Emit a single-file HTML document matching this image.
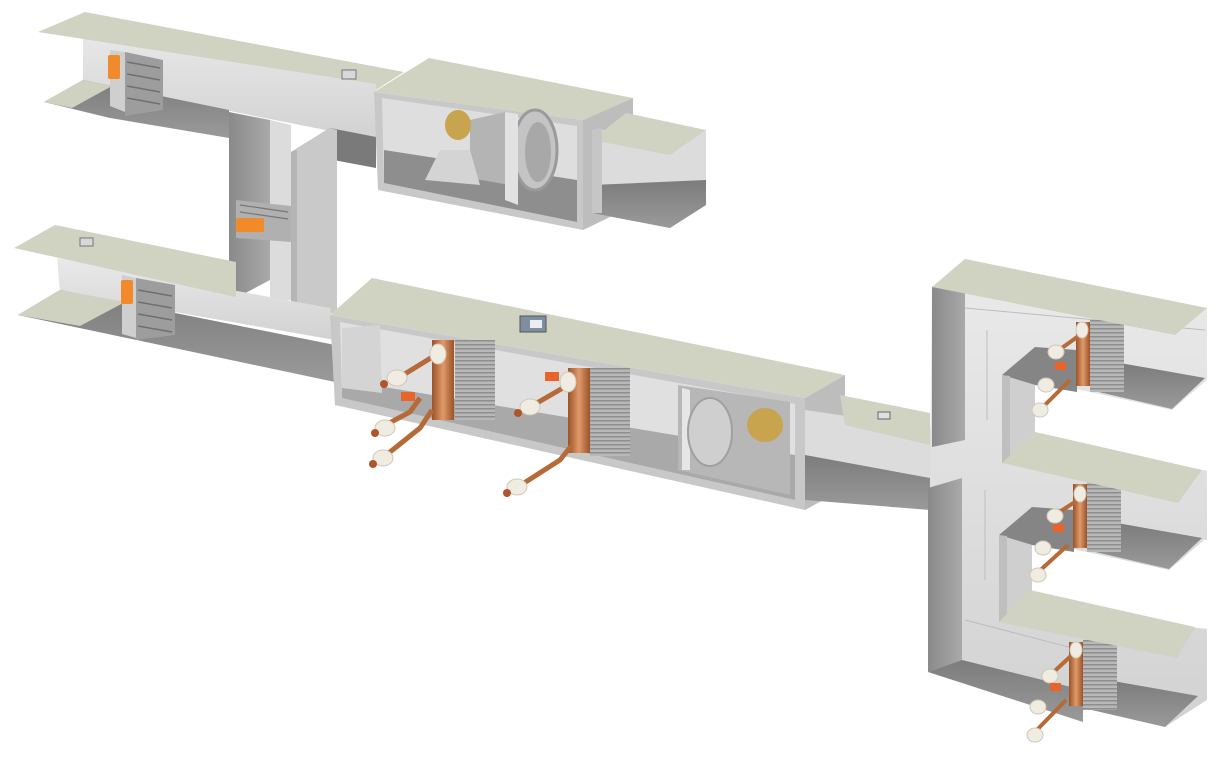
<!DOCTYPE html>
<html><head><meta charset="utf-8"><style>
html,body{margin:0;padding:0;background:#fff;}
svg{display:block;}
</style></head><body>
<svg width="1221" height="757" viewBox="0 0 1221 757" xmlns="http://www.w3.org/2000/svg">
<defs>
<linearGradient id="floor" x1="0" y1="0" x2="0" y2="1"><stop offset="0" stop-color="#7c7c7c"/><stop offset="1" stop-color="#9a9a9a"/></linearGradient>
<linearGradient id="side" x1="0" y1="0" x2="1" y2="0"><stop offset="0" stop-color="#8a8a8a"/><stop offset="1" stop-color="#a9a9a9"/></linearGradient>
<linearGradient id="wall" x1="0" y1="0" x2="0" y2="1"><stop offset="0" stop-color="#e9e9e9"/><stop offset="1" stop-color="#d2d2d2"/></linearGradient>
<linearGradient id="cu" x1="0" y1="0" x2="1" y2="0"><stop offset="0" stop-color="#9a5228"/><stop offset="0.5" stop-color="#e09a6a"/><stop offset="1" stop-color="#9a5228"/></linearGradient>
<pattern id="fins" width="4" height="4" patternUnits="userSpaceOnUse"><rect width="4" height="4" fill="#b8b8b8"/><rect width="4" height="1.5" fill="#8e8e8e"/></pattern>
</defs>

<!-- ===== Upper-left duct ===== -->
<polygon points="83,28 376,80 376,140 83,82" fill="url(#wall)"/>
<polygon points="44,102 83,80 229,110 229,138 110,118" fill="url(#floor)"/>
<polygon points="44,102 83,80 112,86 72,108" fill="#cfd1c1"/>
<polygon points="38,32 85,12 404,72 376,90 376,84" fill="#d0d2c2"/>
<rect x="342" y="70" width="14" height="9" fill="#d8d8d8" stroke="#777" stroke-width="1"/>
<polygon points="110,50 125,52 125,112 110,106" fill="#cfcfcf"/>
<polygon points="125,52 163,60 163,110 125,116" fill="#9d9d9d"/>
<g stroke="#6f6f6f" stroke-width="1.5"><line x1="127" y1="62" x2="160" y2="68"/><line x1="127" y1="74" x2="160" y2="80"/><line x1="127" y1="86" x2="160" y2="92"/><line x1="127" y1="98" x2="160" y2="104"/></g>
<rect x="108" y="55" width="12" height="24" rx="2" fill="#f08a2a"/>

<!-- riser -->
<polygon points="229,112 270,120 270,280 236,298 229,295" fill="url(#side)"/>
<polygon points="270,120 291,125 291,300 270,300" fill="#dcdcdc"/>
<polygon points="330,128 376,137 376,168 291,152" fill="#7a7a7a"/>
<polygon points="291,152 330,128 337,130 337,313 297,313" fill="#c9c9c9"/>
<polygon points="291,152 297,150 297,313 291,310" fill="#b5b5b5"/>
<polygon points="236,200 291,206 291,242 236,238" fill="#b0b0b0"/>
<g stroke="#777" stroke-width="1.2"><line x1="240" y1="205" x2="288" y2="212"/><line x1="240" y1="212" x2="288" y2="219"/></g>
<rect x="236" y="218" width="28" height="14" rx="2" fill="#f08a2a"/>

<!-- ===== Lower-left duct ===== -->
<polygon points="57,258 330,308 335,340 60,292" fill="url(#wall)"/>
<polygon points="18,315 60,290 335,345 335,382" fill="url(#floor)"/>
<polygon points="18,315 60,290 125,302 80,326" fill="#cfd1c1"/>
<polygon points="14,248 55,225 236,262 236,297" fill="#d0d2c2"/>
<rect x="80" y="238" width="13" height="8" fill="#d8d8d8" stroke="#777"/>
<polygon points="122,275 136,278 136,338 122,334" fill="#cfcfcf"/>
<polygon points="136,278 175,285 175,335 136,340" fill="#9d9d9d"/>
<g stroke="#6f6f6f" stroke-width="1.5"><line x1="138" y1="290" x2="172" y2="296"/><line x1="138" y1="302" x2="172" y2="308"/><line x1="138" y1="314" x2="172" y2="320"/><line x1="138" y1="326" x2="172" y2="332"/></g>
<rect x="121" y="280" width="12" height="24" rx="2" fill="#f08a2a"/>

<!-- ===== Fan box top ===== -->
<polygon points="374,92 583,120 583,230 378,190" fill="#c8c8c8"/>
<polygon points="382,98 577,126 577,222 384,183" fill="#dedede"/>
<polygon points="384,150 577,180 577,222 384,183" fill="#8e8e8e"/>
<polygon points="374,92 429,58 633,98 583,120" fill="#d0d2c2"/>
<polygon points="583,120 633,98 633,206 583,230" fill="#bdbdbd"/>
<ellipse cx="535" cy="150" rx="22" ry="40" fill="#c4c4c4" stroke="#9a9a9a" stroke-width="3"/>
<ellipse cx="538" cy="152" rx="13" ry="30" fill="#a8a8a8"/>
<polygon points="470,120 505,112 510,185 470,178" fill="#b4b4b4"/>
<polygon points="505,112 518,114 518,205 505,200" fill="#e2e2e2"/>
<polygon points="440,150 470,150 480,185 425,180" fill="#d4d4d4"/>
<ellipse cx="458" cy="125" rx="13" ry="15" fill="#c9a44e"/>
<polygon points="592,130 706,130 706,205 670,228 592,213" fill="#dcdcdc"/>
<polygon points="592,185 706,180 706,205 670,228 592,213" fill="url(#floor)"/>
<polygon points="626,113 706,130 670,155 592,140" fill="#d0d2c2"/>
<polygon points="592,130 602,128 602,213 592,213" fill="#c6c6c6"/>

<!-- ===== Main AHU ===== -->
<polygon points="330,315 805,398 805,510 335,405" fill="#c8c8c8"/>
<polygon points="340,322 795,404 795,500 342,398" fill="#e0e0e0"/>
<polygon points="342,380 795,455 795,500 342,398" fill="#a9a9a9"/>
<polygon points="330,315 372,278 845,375 805,398" fill="#d0d2c2"/>
<polygon points="805,398 845,375 845,488 805,510" fill="#bdbdbd"/>
<polygon points="380,325 382,393 342,388 342,328" fill="#d4d4d4"/>
<rect x="455" y="340" width="40" height="80" fill="url(#fins)"/>
<rect x="590" y="368" width="40" height="88" fill="url(#fins)"/>
<polygon points="678,385 790,402 790,495 678,470" fill="#b7b7b7"/>
<polygon points="682,388 690,390 690,470 682,470" fill="#e6e6e6"/>
<ellipse cx="710" cy="432" rx="22" ry="34" fill="#cfcfcf" stroke="#a0a0a0" stroke-width="2"/>
<ellipse cx="765" cy="425" rx="18" ry="17" fill="#c9a44e"/>
<rect x="520" y="316" width="26" height="16" fill="#7e8ea0" stroke="#555"/>
<rect x="530" y="320" width="12" height="8" fill="#e8eef2"/>
<rect x="432" y="340" width="22" height="80" fill="url(#cu)"/>
<rect x="568" y="368" width="22" height="85" fill="url(#cu)"/>
<g stroke="#b56a38" stroke-width="5" fill="none">
<polyline points="434,356 395,380"/>
<polyline points="432,410 420,428 380,460"/>
<polyline points="420,398 410,412 380,428"/>
<polyline points="568,385 530,407"/>
<polyline points="572,445 560,460 510,492"/>
</g>
<g fill="#f1ece2" stroke="#cfc8b8">
<ellipse cx="438" cy="354" rx="8" ry="10"/><ellipse cx="397" cy="378" rx="10" ry="8"/>
<ellipse cx="385" cy="428" rx="10" ry="8"/><ellipse cx="383" cy="458" rx="10" ry="8"/>
<ellipse cx="568" cy="382" rx="8" ry="10"/><ellipse cx="530" cy="407" rx="10" ry="8"/>
<ellipse cx="517" cy="487" rx="10" ry="8"/>
</g>
<g fill="#b0552a"><circle cx="384" cy="384" r="4"/><circle cx="375" cy="433" r="4"/><circle cx="373" cy="464" r="4"/><circle cx="518" cy="413" r="4"/><circle cx="507" cy="493" r="4"/></g>
<rect x="401" y="392" width="14" height="9" fill="#e8642a"/>
<rect x="545" y="372" width="14" height="9" fill="#e8642a"/>

<!-- ===== Right duct ===== -->
<polygon points="805,410 930,428 965,440 965,490 930,488 805,470" fill="#dcdcdc"/>
<polygon points="805,455 930,478 965,490 930,510 805,500" fill="url(#floor)"/>
<polygon points="840,395 930,413 930,445 845,425" fill="#d0d2c2"/>
<rect x="878" y="412" width="12" height="7" fill="#e0e0e0" stroke="#666"/>

<!-- right riser wall -->
<polygon points="932,287 1207,308 1207,700 1165,727 962,668 928,672" fill="url(#wall)"/>
<!-- dark left faces -->
<polygon points="932,287 965,292 965,440 932,447" fill="url(#side)"/>
<polygon points="928,488 962,478 962,660 928,672" fill="url(#side)"/>
<!-- bottom floor -->
<polygon points="928,672 962,660 1083,690 1083,722" fill="url(#floor)"/>
<!-- wall seam lines -->
<g stroke="#bdbdbd" stroke-width="1" fill="none">
<line x1="965" y1="308" x2="1205" y2="330"/><line x1="987" y1="330" x2="987" y2="420"/>
<line x1="985" y1="490" x2="985" y2="580"/><line x1="965" y1="620" x2="1080" y2="650"/>
</g>

<!-- gaps (white) between branches -->
<polygon points="1035,380 1090,392 1172,410 1207,380 1221,380 1221,472 1202,470 1035,432" fill="#fff"/>
<polygon points="1032,540 1087,552 1169,570 1204,540 1221,540 1221,630 1197,628 1032,592" fill="#fff"/>
<polygon points="1207,700 1221,700 1221,757 1160,757 1165,727" fill="#fff"/>

<!-- branch 1 -->
<polygon points="1090,390 1120,363 1205,378 1172,409" fill="url(#floor)"/>
<polygon points="1002,375 1035,347 1077,350 1077,392 1035,385" fill="#858585"/>
<polygon points="1002,375 1035,385 1035,432 1002,463" fill="#cfcfcf"/>
<polygon points="1002,375 1010,376 1010,462 1002,463" fill="#bfbfbf"/>
<rect x="1090" y="320" width="34" height="72" fill="url(#fins)"/>
<rect x="1076" y="322" width="14" height="64" fill="url(#cu)"/>
<polygon points="932,287 965,259 1207,308 1175,335" fill="#d0d2c2"/>

<!-- branch 2 -->
<polygon points="1087,550 1117,523 1202,538 1169,569" fill="url(#floor)"/>
<polygon points="999,535 1032,507 1074,510 1074,552 1032,545" fill="#858585"/>
<polygon points="999,535 1032,545 1032,592 999,622" fill="#cfcfcf"/>
<polygon points="999,535 1007,536 1007,621 999,622" fill="#bfbfbf"/>
<rect x="1087" y="482" width="34" height="70" fill="url(#fins)"/>
<rect x="1073" y="484" width="14" height="64" fill="url(#cu)"/>
<polygon points="1002,463 1035,432 1202,470 1178,503" fill="#d0d2c2"/>

<!-- branch 3 -->
<polygon points="1083,708 1113,681 1198,696 1165,727" fill="url(#floor)"/>
<rect x="1083" y="640" width="34" height="70" fill="url(#fins)"/>
<rect x="1069" y="642" width="14" height="64" fill="url(#cu)"/>
<polygon points="999,622 1030,590 1195,627 1177,658" fill="#d0d2c2"/>

<!-- right pipes -->
<g stroke="#b56a38" stroke-width="4" fill="none">
<polyline points="1080,335 1052,355"/><polyline points="1070,380 1040,410"/><polyline points="1078,500 1050,518"/><polyline points="1068,545 1035,575"/><polyline points="1072,655 1045,680"/><polyline points="1066,700 1032,735"/>
</g>
<g fill="#f1ece2" stroke="#cfc8b8">
<ellipse cx="1082" cy="330" rx="6" ry="8"/><ellipse cx="1056" cy="352" rx="8" ry="7"/><ellipse cx="1046" cy="385" rx="8" ry="7"/><ellipse cx="1040" cy="410" rx="8" ry="7"/>
<ellipse cx="1080" cy="494" rx="6" ry="8"/><ellipse cx="1055" cy="516" rx="8" ry="7"/><ellipse cx="1043" cy="548" rx="8" ry="7"/><ellipse cx="1038" cy="575" rx="8" ry="7"/>
<ellipse cx="1076" cy="650" rx="6" ry="8"/><ellipse cx="1050" cy="676" rx="8" ry="7"/><ellipse cx="1038" cy="707" rx="8" ry="7"/><ellipse cx="1035" cy="735" rx="8" ry="7"/>
</g>
<g fill="#e8642a"><rect x="1055" y="362" width="11" height="8"/><rect x="1053" y="524" width="11" height="8"/><rect x="1050" y="683" width="11" height="8"/></g>
</svg>
</body></html>
